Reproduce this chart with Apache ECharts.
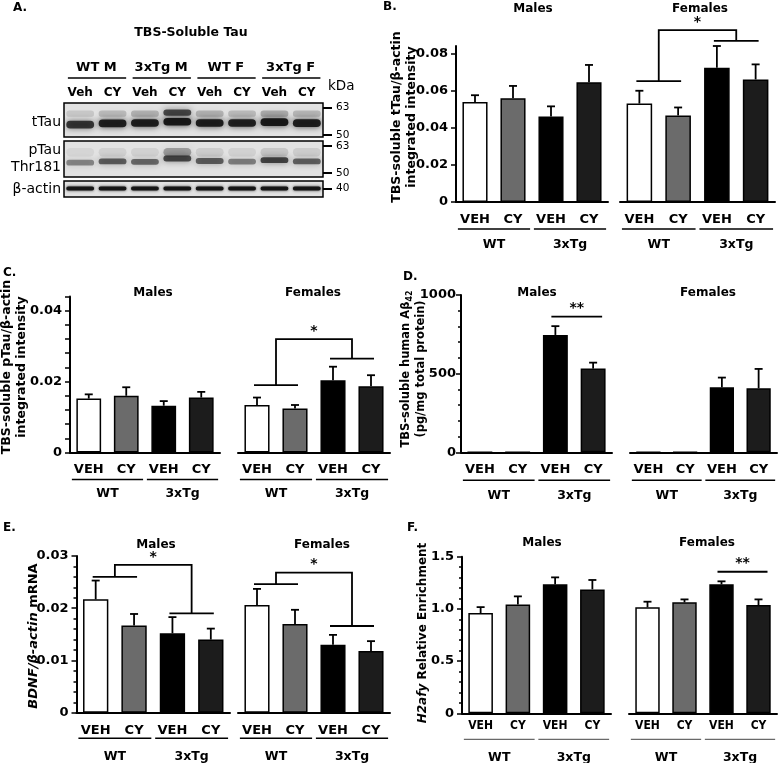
<!DOCTYPE html>
<html><head><meta charset="utf-8">
<script src="https://cdn.jsdelivr.net/npm/echarts@6/dist/echarts.min.js"></script>
<style>html,body{margin:0;padding:0;background:#fff}#c{width:778px;height:763px}</style>
</head><body><div id="c"></div>
<script>
// ---------------- DATA ----------------
const treatments = ['VEH', 'CY', 'VEH', 'CY'];
const genotypes = ['WT', '3xTg'];
const genotypeRanges = [[0, 1], [2, 3]];

// Panel A (western blot, band position in kDa and relative density per lane)
const blotLanes = ['Veh', 'CY', 'Veh', 'CY', 'Veh', 'CY', 'Veh', 'CY'];
const blotGroups = ['WT M', '3xTg M', 'WT F', '3xTg F'];
const blotGroupLanes = [[0, 1], [2, 3], [4, 5], [6, 7]];
const tTauBandKDa = [54.8, 55.4, 55.6, 56.2, 55.6, 55.6, 56.0, 55.5];
const tTauBandDensity = [0.78, 0.9, 0.92, 0.95, 0.93, 0.9, 0.95, 0.92];
const tTauUpperKDa = [60, 60, 60, 60.5, 60, 60, 60, 60];
const tTauUpperDensity = [0.12, 0.18, 0.22, 0.7, 0.22, 0.18, 0.25, 0.2];
const pTauBandKDa = [55.0, 55.6, 55.4, 57.0, 55.8, 55.5, 56.2, 55.6];
const pTauBandDensity = [0.42, 0.6, 0.55, 0.7, 0.6, 0.45, 0.72, 0.58];
const pTauUpperKDa = [60, 60, 60, 60, 60, 60, 60, 60];
const pTauUpperDensity = [0.06, 0.08, 0.08, 0.3, 0.1, 0.08, 0.12, 0.1];
const actinKDa = [40, 40, 40, 40, 40, 40, 40, 40];
const actinDensity = [0.95, 0.95, 0.95, 0.95, 0.95, 0.95, 0.95, 0.95];
const tTauMarkers = [50, 63];
const pTauMarkers = [50, 63];
const actinMarkers = [40];

// Panel B: TBS-soluble tTau / beta-actin
const bTicks = [0, 0.02, 0.04, 0.06, 0.08];
const bMales = [0.0539, 0.0558, 0.0461, 0.0645];
const bMalesSem = [0.0036, 0.0067, 0.0054, 0.0093];
const bFemales = [0.0530, 0.0466, 0.0723, 0.0660];
const bFemalesSem = [0.0069, 0.0043, 0.0117, 0.0081];
const bFemalesBracket = [[0, 1, 0.0651, 2, 3, 0.0868, 0.0926]];

// Panel C: TBS-soluble pTau / beta-actin
const cTicks = [0, 0.02, 0.04];
const cMales = [0.0152, 0.0160, 0.0132, 0.0155];
const cMalesSem = [0.0012, 0.0024, 0.0013, 0.0016];
const cFemales = [0.0134, 0.0124, 0.0204, 0.0187];
const cFemalesSem = [0.0021, 0.0010, 0.0038, 0.0031];
const cFemalesBracket = [[0, 1, 0.0190, 2, 3, 0.0265, 0.0320]];

// Panel D: TBS-soluble human Abeta42 (pg/mg total protein)
const dTicks = [0, 500, 1000];
const dMales = [0, 0, 746, 532];
const dMalesSem = [null, null, 56, 38];
const dFemales = [0, 0, 413, 407];
const dFemalesSem = [null, null, 62, 123];
const dMalesSig = [[2, 3, 862]];

// Panel E: BDNF / beta-actin mRNA
const eTicks = [0, 0.01, 0.02, 0.03];
const eMales = [0.0217, 0.0167, 0.0152, 0.0140];
const eMalesSem = [0.0036, 0.0022, 0.0031, 0.0021];
const eFemales = [0.0206, 0.0170, 0.0130, 0.0118];
const eFemalesSem = [0.0031, 0.0027, 0.0019, 0.0019];
const eMalesBracket = [[0, 1, 0.0260, 2, 3, 0.0190, 0.0283]];
const eFemalesBracket = [[0, 1, 0.0246, 2, 3, 0.0166, 0.0268]];

// Panel F: H2afy relative enrichment
const fTicks = [0, 0.5, 1.0, 1.5];
const fMales = [0.96, 1.042, 1.235, 1.187];
const fMalesSem = [0.057, 0.078, 0.067, 0.090];
const fFemales = [1.015, 1.063, 1.235, 1.037];
const fFemalesSem = [0.054, 0.028, 0.029, 0.054];
const fFemalesSig = [[2, 3, 1.356]];

// ---------------- STYLE / LAYOUT ----------------
const FONT = 'DejaVu Sans';
const barColors = ['#ffffff', '#6b6b6b', '#000000', '#1c1c1c'];
const grids = [], xAxes = [], yAxes = [], series = [], graphics = [];

function yAxisCfg(gi, o) {
  const ax = {
    gridIndex: gi, type: 'value', min: 0, max: o.max,
    axisLine: { show: o.showY, lineStyle: { color: '#000', width: 2 } },
    axisTick: { show: o.showY, length: 5, lineStyle: { color: '#000', width: 1.5 } },
    minorTick: { show: !!(o.showY && o.minor), splitNumber: o.minor || 5, length: 3, lineStyle: { color: '#000', width: 1.5 } },
    axisLabel: {
      show: o.showY, margin: o.yMargin || 8, color: '#000', fontFamily: FONT, fontWeight: 'bold', fontSize: 13,
      formatter: v => (+v === 0 ? '0' : (+v).toFixed(o.decimals))
    },
    splitLine: { show: false }
  };
  if (o.interval) ax.interval = o.interval;
  if (o.tickValues) ax.axisTick.customValues = o.tickValues;
  if (o.labelValues) ax.axisLabel.customValues = o.labelValues;
  return ax;
}

function addBarPanel(o) {
  const gi = grids.length;
  grids.push({ left: o.left, top: o.top, width: o.width, height: o.height });
  xAxes.push({
    gridIndex: gi, type: 'category', data: treatments,
    axisLine: { lineStyle: { color: '#000', width: 2 } },
    axisTick: { alignWithLabel: true, length: 4, lineStyle: { color: '#000', width: 1.5 } },
    axisLabel: {
      interval: 0, margin: o.xMargin || 11, color: '#000',
      fontFamily: o.xFont || FONT, fontWeight: 'bold', fontSize: o.xFontSize || 13
    },
    splitLine: { show: false }
  });
  yAxes.push(yAxisCfg(gi, o));
  series.push({
    type: 'bar', xAxisIndex: gi, yAxisIndex: gi, barWidth: '66%', silent: true,
    itemStyle: { borderColor: '#000', borderWidth: 1.5 },
    data: o.means.map((v, i) => ({ value: v, itemStyle: { color: barColors[i] } }))
  });
  const errData = [];
  o.means.forEach((m, i) => { if (o.sems[i] != null) errData.push([i, m, m + o.sems[i]]); });
  series.push({
    type: 'custom', xAxisIndex: gi, yAxisIndex: gi, clip: false, silent: true, z: 5,
    data: errData,
    renderItem: (params, api) => {
      const p0 = api.coord([api.value(0), api.value(1)]);
      const p1 = api.coord([api.value(0), api.value(2)]);
      const st = { stroke: '#000', lineWidth: 1.8 };
      return { type: 'group', children: [
        { type: 'line', shape: { x1: p0[0], y1: p0[1], x2: p1[0], y2: p1[1] }, style: st },
        { type: 'line', shape: { x1: p1[0] - 4, y1: p1[1], x2: p1[0] + 4, y2: p1[1] }, style: st }
      ] };
    }
  });
  series.push({
    type: 'custom', xAxisIndex: gi, yAxisIndex: gi, clip: false, silent: true, z: 5,
    data: genotypeRanges,
    renderItem: (params, api) => {
      const a = api.coord([api.value(0), 0]);
      const b = api.coord([api.value(1), 0]);
      const bw = api.size([1, 0])[0];
      const y = a[1] + o.uOff;
      return { type: 'group', children: [
        { type: 'line', shape: { x1: a[0] - 0.45 * bw, y1: y, x2: b[0] + 0.45 * bw, y2: y },
          style: { stroke: o.uColor || '#000', lineWidth: o.uWidth || 1.5 } },
        { type: 'text', x: (a[0] + b[0]) / 2, y: a[1] + o.tOff,
          style: { text: genotypes[params.dataIndex], fill: '#000', font: 'bold 12.5px ' + FONT,
                   align: 'center', verticalAlign: 'middle', textAlign: 'center', textVerticalAlign: 'middle' } }
      ] };
    }
  });
  return gi;
}

function bracketSeries(gi, items, label) {
  return {
    type: 'custom', xAxisIndex: gi, yAxisIndex: gi, clip: false, silent: true, z: 6, data: items,
    renderItem: (params, api) => {
      const pA0 = api.coord([api.value(0), api.value(2)]), pA1 = api.coord([api.value(1), api.value(2)]);
      const pB0 = api.coord([api.value(3), api.value(5)]), pB1 = api.coord([api.value(4), api.value(5)]);
      const top = api.coord([api.value(0), api.value(6)])[1];
      const mA = (pA0[0] + pA1[0]) / 2, mB = (pB0[0] + pB1[0]) / 2;
      const ls = { stroke: '#000', lineWidth: 1.8, fill: null };
      return { type: 'group', children: [
        { type: 'polyline', shape: { points: [[pA0[0] - 3, pA0[1]], [pA1[0] + 3, pA1[1]]] }, style: ls },
        { type: 'polyline', shape: { points: [[mA, pA0[1]], [mA, top], [mB, top], [mB, pB0[1]]] }, style: ls },
        { type: 'polyline', shape: { points: [[pB0[0] - 3, pB0[1]], [pB1[0] + 3, pB1[1]]] }, style: ls },
        { type: 'text', x: (mA + mB) / 2, y: top - 1,
          style: { text: label, fill: '#000', font: 'bold 14px ' + FONT, align: 'center', verticalAlign: 'bottom',
                   textAlign: 'center', textVerticalAlign: 'bottom' } }
      ] };
    }
  };
}

function sigLineSeries(gi, items, label) {
  return {
    type: 'custom', xAxisIndex: gi, yAxisIndex: gi, clip: false, silent: true, z: 6, data: items,
    renderItem: (params, api) => {
      const p0 = api.coord([api.value(0), api.value(2)]), p1 = api.coord([api.value(1), api.value(2)]);
      const x0 = p0[0] - 4, x1 = p1[0] + 9;
      return { type: 'group', children: [
        { type: 'line', shape: { x1: x0, y1: p0[1], x2: x1, y2: p0[1] }, style: { stroke: '#000', lineWidth: 1.8 } },
        { type: 'text', x: (x0 + x1) / 2, y: p0[1] - 1,
          style: { text: label, fill: '#000', font: 'bold 14px ' + FONT, align: 'center', verticalAlign: 'bottom',
                   textAlign: 'center', textVerticalAlign: 'bottom' } }
      ] };
    }
  };
}

// ---------- Panel A: blot strips ----------
function addBlotStrip(o) {
  const gi = grids.length;
  grids.push({ left: 64, top: o.top, width: 259, height: o.height, show: true,
               backgroundColor: '#e2e2e2', borderColor: '#000', borderWidth: 1.5 });
  xAxes.push({
    gridIndex: gi, type: 'category', data: blotLanes, position: 'top',
    axisLine: { show: false }, axisTick: { show: false }, splitLine: { show: false },
    axisLabel: { show: !!o.showLanes, interval: 0, margin: 4, color: '#000', fontFamily: FONT, fontWeight: 'bold', fontSize: 12 }
  });
  yAxes.push({
    gridIndex: gi, type: 'value', min: o.min, max: o.max, position: 'right',
    axisLine: { show: false }, splitLine: { show: false },
    axisTick: { show: true, length: 9, lineStyle: { color: '#000', width: 2 }, customValues: o.markers },
    axisLabel: { show: true, margin: 13, color: '#000', fontFamily: FONT, fontSize: 10.5, customValues: o.markers }
  });
  o.bands.forEach(b => {
    const data = b.kda.map((k, i) => [i, k, b.density[i]]);
    series.push({
      type: 'custom', xAxisIndex: gi, yAxisIndex: gi, clip: true, silent: true, z: 3, data,
      renderItem: (params, api) => {
        const c = api.coord([api.value(0), api.value(1)]);
        const w = api.size([1, 0])[0] * 0.86;
        const h = api.size([0, b.thick])[1];
        const a = api.value(2);
        return { type: 'rect', shape: { x: c[0] - w / 2, y: c[1] - h / 2, width: w, height: h, r: h / 2 },
                 style: { fill: 'rgba(18,18,18,' + a + ')', shadowBlur: b.blur, shadowColor: 'rgba(18,18,18,' + (a * 0.9) + ')' } };
      }
    });
  });
  return gi;
}

const gT = addBlotStrip({ top: 103, height: 34, min: 49, max: 65, markers: tTauMarkers, showLanes: true,
  bands: [ { kda: tTauUpperKDa, density: tTauUpperDensity, thick: 3.0, blur: 7 },
           { kda: tTauBandKDa, density: tTauBandDensity, thick: 3.6, blur: 6 } ] });
addBlotStrip({ top: 141, height: 36, min: 48.1, max: 65.4, markers: pTauMarkers,
  bands: [ { kda: pTauUpperKDa, density: pTauUpperDensity, thick: 4.0, blur: 8 },
           { kda: pTauBandKDa, density: pTauBandDensity, thick: 2.8, blur: 6 } ] });
addBlotStrip({ top: 181, height: 16, min: 32, max: 47, markers: actinMarkers,
  bands: [ { kda: actinKDa, density: actinDensity, thick: 3.6, blur: 3 } ] });

series.push({
  type: 'custom', xAxisIndex: gT, yAxisIndex: gT, clip: false, silent: true, z: 5, data: blotGroupLanes,
  renderItem: (params, api) => {
    const a = api.coord([api.value(0), 65]), b = api.coord([api.value(1), 65]);
    const bw = api.size([1, 0])[0];
    return { type: 'group', children: [
      { type: 'line', shape: { x1: a[0] - 0.38 * bw, y1: a[1] - 25, x2: b[0] + 0.42 * bw, y2: a[1] - 25 },
        style: { stroke: '#000', lineWidth: 1.5 } },
      { type: 'text', x: (a[0] + b[0]) / 2, y: a[1] - 35,
        style: { text: blotGroups[params.dataIndex], fill: '#000', font: 'bold 13px ' + FONT,
                 align: 'center', verticalAlign: 'middle', textAlign: 'center', textVerticalAlign: 'middle' } }
    ] };
  }
});

// ---------- Panels B-F ----------
const bM = addBarPanel({ left: 456, top: 46, width: 152, height: 156, max: 0.084, tickValues: bTicks, labelValues: bTicks,
  decimals: 2, showY: true, means: bMales, sems: bMalesSem, uOff: 27, tOff: 43 });
const bF = addBarPanel({ left: 620, top: 46, width: 155, height: 156, max: 0.084, showY: false, decimals: 2,
  means: bFemales, sems: bFemalesSem, uOff: 27, tOff: 43 });
series.push(bracketSeries(bF, bFemalesBracket, '*'));

const cM = addBarPanel({ left: 70, top: 296.5, width: 150, height: 156, max: 0.044, interval: 0.004, labelValues: cTicks,
  decimals: 2, showY: true, means: cMales, sems: cMalesSem, uOff: 27, tOff: 41 });
const cF = addBarPanel({ left: 238, top: 296.5, width: 152, height: 156, max: 0.044, showY: false, decimals: 2,
  means: cFemales, sems: cFemalesSem, uOff: 27, tOff: 41 });
series.push(bracketSeries(cF, cFemalesBracket, '*'));

const dM = addBarPanel({ left: 461, top: 295, width: 151, height: 157.3, max: 1000, interval: 500, minor: 5, yMargin: 5,
  decimals: 0, showY: true, means: dMales, sems: dMalesSem, uOff: 28, tOff: 43 });
const dF = addBarPanel({ left: 630, top: 295, width: 147, height: 157.3, max: 1000, showY: false, decimals: 0,
  means: dFemales, sems: dFemalesSem, uOff: 28, tOff: 43 });
series.push(sigLineSeries(dM, dMalesSig, '**'));

const eM = addBarPanel({ left: 76.5, top: 556, width: 153.5, height: 156.7, max: 0.03, interval: 0.01, minor: 5,
  decimals: 2, showY: true, means: eMales, sems: eMalesSem, uOff: 25.5, tOff: 44 });
const eF = addBarPanel({ left: 238, top: 556, width: 152, height: 156.7, max: 0.03, showY: false, decimals: 2,
  means: eFemales, sems: eFemalesSem, uOff: 25.5, tOff: 44 });
series.push(bracketSeries(eM, eMalesBracket, '*'));
series.push(bracketSeries(eF, eFemalesBracket, '*'));

const narrow = "'Liberation Sans Narrow', 'DejaVu Sans Condensed', 'Liberation Sans'";
const fM = addBarPanel({ left: 462, top: 556.7, width: 149, height: 156.6, max: 1.5, interval: 0.5, minor: 5,
  decimals: 1, showY: true, means: fMales, sems: fMalesSem, uOff: 26, tOff: 44, uWidth: 1, uColor: '#444',
  xFont: narrow, xFontSize: 12, xMargin: 7 });
const fF = addBarPanel({ left: 629, top: 556.7, width: 148, height: 156.6, max: 1.5, showY: false, decimals: 1,
  means: fFemales, sems: fFemalesSem, uOff: 26, tOff: 44, uWidth: 1, uColor: '#444',
  xFont: narrow, xFontSize: 12, xMargin: 7 });
series.push(sigLineSeries(fF, fFemalesSig, '**'));

// ---------- Static texts ----------
function txt(x, y, text, opt) {
  opt = opt || {};
  const el = {
    type: 'text', x, y, silent: true, z: 10,
    style: {
      text, fill: '#000', fontFamily: FONT, fontSize: opt.size || 12, fontWeight: opt.weight || 'bold',
      align: opt.align || 'center', verticalAlign: 'middle',
      textAlign: opt.align || 'center', textVerticalAlign: 'middle'
    }
  };
  if (opt.rotate) el.rotation = Math.PI / 2;
  if (opt.rich) el.style.rich = opt.rich;
  if (opt.lineHeight) el.style.lineHeight = opt.lineHeight;
  graphics.push(el);
}
// panel letters
txt(13, 8, 'A.', { align: 'left' });
txt(383, 7, 'B.', { align: 'left' });
txt(3, 273, 'C.', { align: 'left' });
txt(403, 277, 'D.', { align: 'left' });
txt(3, 528, 'E.', { align: 'left' });
txt(407, 528, 'F.', { align: 'left' });
// panel A texts
txt(191, 33, 'TBS-Soluble Tau', { size: 12.5 });
txt(61, 122, 'tTau', { align: 'right', weight: 'normal', size: 14 });
txt(61, 150, 'pTau', { align: 'right', weight: 'normal', size: 14 });
txt(61, 167, 'Thr181', { align: 'right', weight: 'normal', size: 14 });
txt(61, 189, 'β-actin', { align: 'right', weight: 'normal', size: 14 });
txt(328, 86, 'kDa', { align: 'left', weight: 'normal', size: 13.5 });
// sex titles
[[533, 9, 'Males'], [700, 9, 'Females'], [153, 293, 'Males'], [313, 293, 'Females'],
 [537, 293, 'Males'], [708, 293, 'Females'], [156, 545, 'Males'], [322, 545, 'Females'],
 [542, 543, 'Males'], [707, 543, 'Females']].forEach(t => txt(t[0], t[1], t[2], { size: 12 }));
// y-axis names
txt(404.5, 117, 'TBS-soluble tTau/β-actin\nintegrated intensity', { rotate: true, size: 12.5, lineHeight: 15 });
txt(14.5, 367, 'TBS-soluble pTau/β-actin\nintegrated intensity', { rotate: true, size: 12.5, lineHeight: 15 });
txt(414, 369, '{a|TBS-soluble human Aβ}{s|42}\n{a|(pg/mg total protein)}', { rotate: true, size: 11.5,
  rich: { a: { fontFamily: FONT, fontWeight: 'bold', fontSize: 11.5, lineHeight: 15 },
          s: { fontFamily: FONT, fontWeight: 'bold', fontSize: 8, lineHeight: 15, verticalAlign: 'bottom' } } });
txt(34, 636, '{i|BDNF/β-actin} {n|mRNA}', { rotate: true, size: 13,
  rich: { i: { fontFamily: FONT, fontWeight: 'bold', fontStyle: 'italic', fontSize: 13 },
          n: { fontFamily: FONT, fontWeight: 'bold', fontSize: 13 } } });
txt(423, 633, '{i|H2afy} {n|Relative Enrichment}', { rotate: true, size: 12,
  rich: { i: { fontFamily: FONT, fontWeight: 'bold', fontStyle: 'italic', fontSize: 12 },
          n: { fontFamily: FONT, fontWeight: 'bold', fontSize: 12 } } });

const chart = echarts.init(document.getElementById('c'), null, { renderer: 'canvas', width: 778, height: 763 });
chart.setOption({
  animation: false,
  backgroundColor: '#ffffff',
  textStyle: { fontFamily: FONT },
  grid: grids, xAxis: xAxes, yAxis: yAxes, series, graphic: { elements: graphics }
});
</script></body></html>
